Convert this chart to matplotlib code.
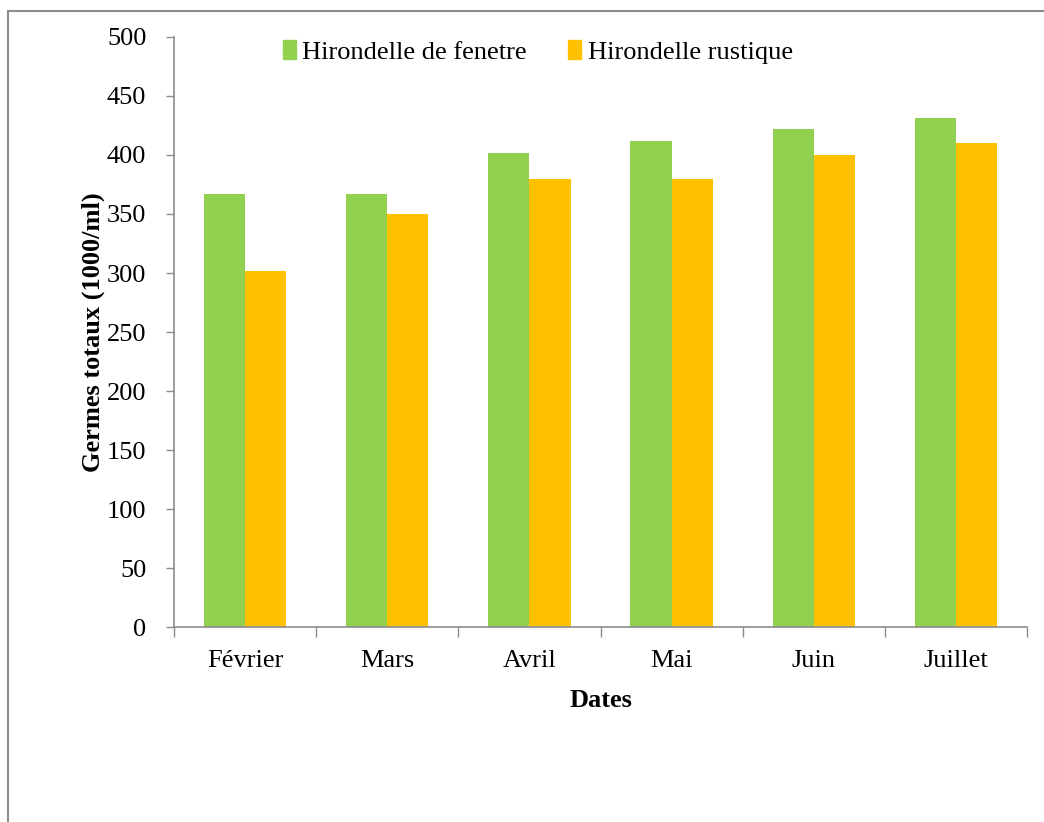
import matplotlib
matplotlib.use("Agg")
import matplotlib.pyplot as plt
import numpy as np
from matplotlib.patches import Rectangle, Patch

# Donnees
mois = ["Février", "Mars", "Avril", "Mai", "Juin", "Juillet"]
fenetre = [367, 367, 402, 412, 422, 431]
rustique = [302, 350, 380, 380, 400, 410]
series = ["Hirondelle de fenetre", "Hirondelle rustique"]
couleurs = ["#92D050", "#FFC000"]

plt.rcParams["font.family"] = ["Liberation Serif", "DejaVu Serif"]

fig = plt.figure(figsize=(10.44, 8.22), dpi=100)
ax = fig.add_axes([0.1667, 0.2372, 0.817, 0.7178])

x = np.arange(len(mois))
w = 0.29
ax.bar(x - w / 2, fenetre, w, color=couleurs[0], label=series[0])
ax.bar(x + w / 2, rustique, w, color=couleurs[1], label=series[1])

ax.set_xlim(-0.5, len(mois) - 0.5)
ax.set_ylim(0, 500)
ax.set_yticks(range(0, 501, 50))
ax.set_xticks(x)
ax.set_xticklabels(mois)
ax.tick_params(axis="x", length=0, labelsize=19, pad=16.5)
ax.set_xticks(np.arange(-0.5, len(mois)), minor=True)
ax.tick_params(axis="x", which="minor", length=7, color="#8c8c8c", width=1)
ax.tick_params(axis="y", length=6, color="#8c8c8c", width=1, labelsize=19, pad=14)

for s in ["top", "right"]:
    ax.spines[s].set_visible(False)
for s in ["left", "bottom"]:
    ax.spines[s].set_color("#8c8c8c")
    ax.spines[s].set_linewidth(1.2)

ax.set_ylabel("Germes totaux (1000/ml)", fontsize=19, fontweight="bold", labelpad=1)
ax.set_xlabel("Dates", fontsize=19, fontweight="bold", labelpad=12)

handles = [Patch(color=c) for c in couleurs]
fig.legend(handles, series, loc="center", bbox_to_anchor=(0.515, 0.937), ncol=2,
           frameon=False, fontsize=19, handlelength=0.5, handleheight=0.7,
           handletextpad=0.25, columnspacing=1.55)

# cadre gris autour de la figure
fig.patches.append(Rectangle((8 / 1044, -0.1), 1.2, 1.1 - 11 / 822,
                             transform=fig.transFigure, fill=False,
                             edgecolor="#8c8c8c", linewidth=1.5))

fig.savefig("out.png", dpi=100)
